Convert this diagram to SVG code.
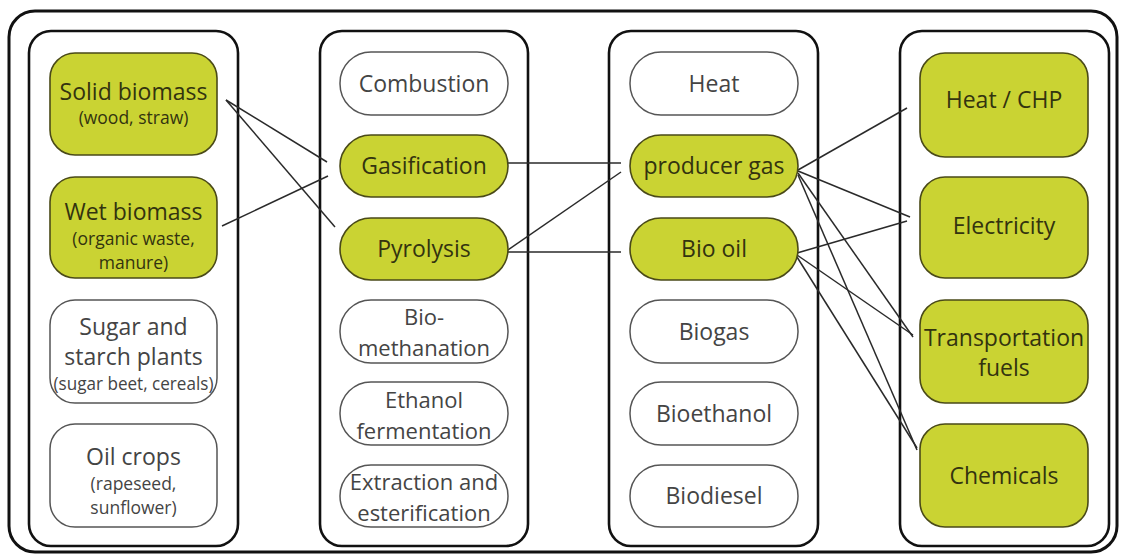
<svg xmlns="http://www.w3.org/2000/svg" width="1123" height="556" viewBox="0 0 1123 556">
<style>
.col{fill:none;stroke:#111;stroke-width:2.6}
.y{fill:#cad333;stroke:#4a4a18;stroke-width:1.6}
.w{fill:#fff;stroke:#555;stroke-width:1.5}
text{font-family:"Open Sans","Noto Sans",sans-serif;text-anchor:middle}
.ty{fill:#33330f;font-size:23px}
.tw{fill:#444;font-size:23px}
.t2{fill:#444;font-size:22px}
.sy{fill:#33330f;font-size:17.5px}
.sw{fill:#444;font-size:17.5px}
.c line{stroke:#2a2a2a;stroke-width:1.5}
</style>
<rect x="0" y="0" width="1123" height="556" fill="#fff"/>
<rect x="9" y="11" width="1108" height="541" rx="26" fill="none" stroke="#111" stroke-width="3"/>
<g id="columns">
<rect class="col" x="29" y="31" width="209" height="515" rx="22"/>
<rect class="col" x="320" y="31" width="208" height="515" rx="22"/>
<rect class="col" x="609" y="31" width="209" height="515" rx="22"/>
<rect class="col" x="900" y="31" width="209" height="515" rx="22"/>
</g>
<g id="connectors" class="c">
<line x1="226" y1="100" x2="327" y2="162"/>
<line x1="226" y1="100" x2="335" y2="227"/>
<line x1="222" y1="226" x2="328" y2="176"/>
<line x1="507" y1="163" x2="621" y2="163"/>
<line x1="508" y1="250" x2="621" y2="172"/>
<line x1="508" y1="252" x2="621" y2="252"/>
<line x1="798" y1="170" x2="907" y2="108"/>
<line x1="798" y1="171" x2="910" y2="217"/>
<line x1="798" y1="173" x2="913" y2="337"/>
<line x1="798" y1="175" x2="917" y2="450"/>
<line x1="797" y1="253" x2="907" y2="221"/>
<line x1="797" y1="255" x2="913" y2="335"/>
<line x1="797" y1="257" x2="917" y2="448"/>
</g>
<g id="solid-biomass"><rect class="y" x="50" y="53" width="167" height="102" rx="25"/><text class="ty" x="133.5" y="100">Solid biomass</text><text class="sy" x="133.5" y="124">(wood, straw)</text></g>
<g id="wet-biomass"><rect class="y" x="50" y="177" width="167" height="101" rx="25"/><text class="ty" x="133.5" y="220">Wet biomass</text><text class="sy" x="133.5" y="245">(organic waste,</text><text class="sy" x="133.5" y="269">manure)</text></g>
<g id="sugar-starch"><rect class="w" x="50" y="300" width="167" height="103" rx="25"/><text class="tw" x="133.5" y="335">Sugar and</text><text class="tw" x="133.5" y="365">starch plants</text><text class="sw" x="133.5" y="390" font-size="16.5" textLength="160" lengthAdjust="spacingAndGlyphs">(sugar beet, cereals)</text></g>
<g id="oil-crops"><rect class="w" x="50" y="424" width="167" height="103" rx="25"/><text class="tw" x="133.5" y="465">Oil crops</text><text class="sw" x="133.5" y="490">(rapeseed,</text><text class="sw" x="133.5" y="514">sunflower)</text></g>
<g id="combustion"><rect class="w" x="340" y="52" width="168" height="63" rx="31"/><text class="tw" x="424" y="92">Combustion</text></g>
<g id="gasification"><rect class="y" x="340" y="135" width="168" height="62" rx="31"/><text class="ty" x="424" y="174">Gasification</text></g>
<g id="pyrolysis"><rect class="y" x="340" y="218" width="168" height="62" rx="31"/><text class="ty" x="424" y="257">Pyrolysis</text></g>
<g id="biomethanation"><rect class="w" x="340" y="300" width="168" height="63" rx="31"/><text class="t2" x="424" y="325">Bio-</text><text class="t2" x="424" y="356">methanation</text></g>
<g id="ethanol-fermentation"><rect class="w" x="340" y="382" width="168" height="63" rx="31"/><text class="t2" x="424" y="408">Ethanol</text><text class="t2" x="424" y="439">fermentation</text></g>
<g id="extraction"><rect class="w" x="340" y="465" width="168" height="62" rx="31"/><text class="t2" x="424" y="490">Extraction and</text><text class="t2" x="424" y="521">esterification</text></g>
<g id="heat"><rect class="w" x="630" y="52" width="168" height="63" rx="31"/><text class="tw" x="714" y="92">Heat</text></g>
<g id="producer-gas"><rect class="y" x="630" y="135" width="168" height="62" rx="31"/><text class="ty" x="714" y="174">producer gas</text></g>
<g id="bio-oil"><rect class="y" x="630" y="218" width="168" height="62" rx="31"/><text class="ty" x="714" y="257">Bio oil</text></g>
<g id="biogas"><rect class="w" x="630" y="300" width="168" height="63" rx="31"/><text class="tw" x="714" y="340">Biogas</text></g>
<g id="bioethanol"><rect class="w" x="630" y="382" width="168" height="63" rx="31"/><text class="tw" x="714" y="422">Bioethanol</text></g>
<g id="biodiesel"><rect class="w" x="630" y="465" width="168" height="62" rx="31"/><text class="tw" x="714" y="504">Biodiesel</text></g>
<g id="heat-chp"><rect class="y" x="920" y="53" width="168" height="104" rx="25"/><text class="ty" x="1004" y="108">Heat / CHP</text></g>
<g id="electricity"><rect class="y" x="920" y="177" width="168" height="101" rx="25"/><text class="ty" x="1004" y="234">Electricity</text></g>
<g id="transportation-fuels"><rect class="y" x="920" y="300" width="168" height="103" rx="25"/><text class="ty" x="1004" y="346">Transportation</text><text class="ty" x="1004" y="376">fuels</text></g>
<g id="chemicals"><rect class="y" x="920" y="424" width="168" height="103" rx="25"/><text class="ty" x="1004" y="484">Chemicals</text></g>
</svg>
